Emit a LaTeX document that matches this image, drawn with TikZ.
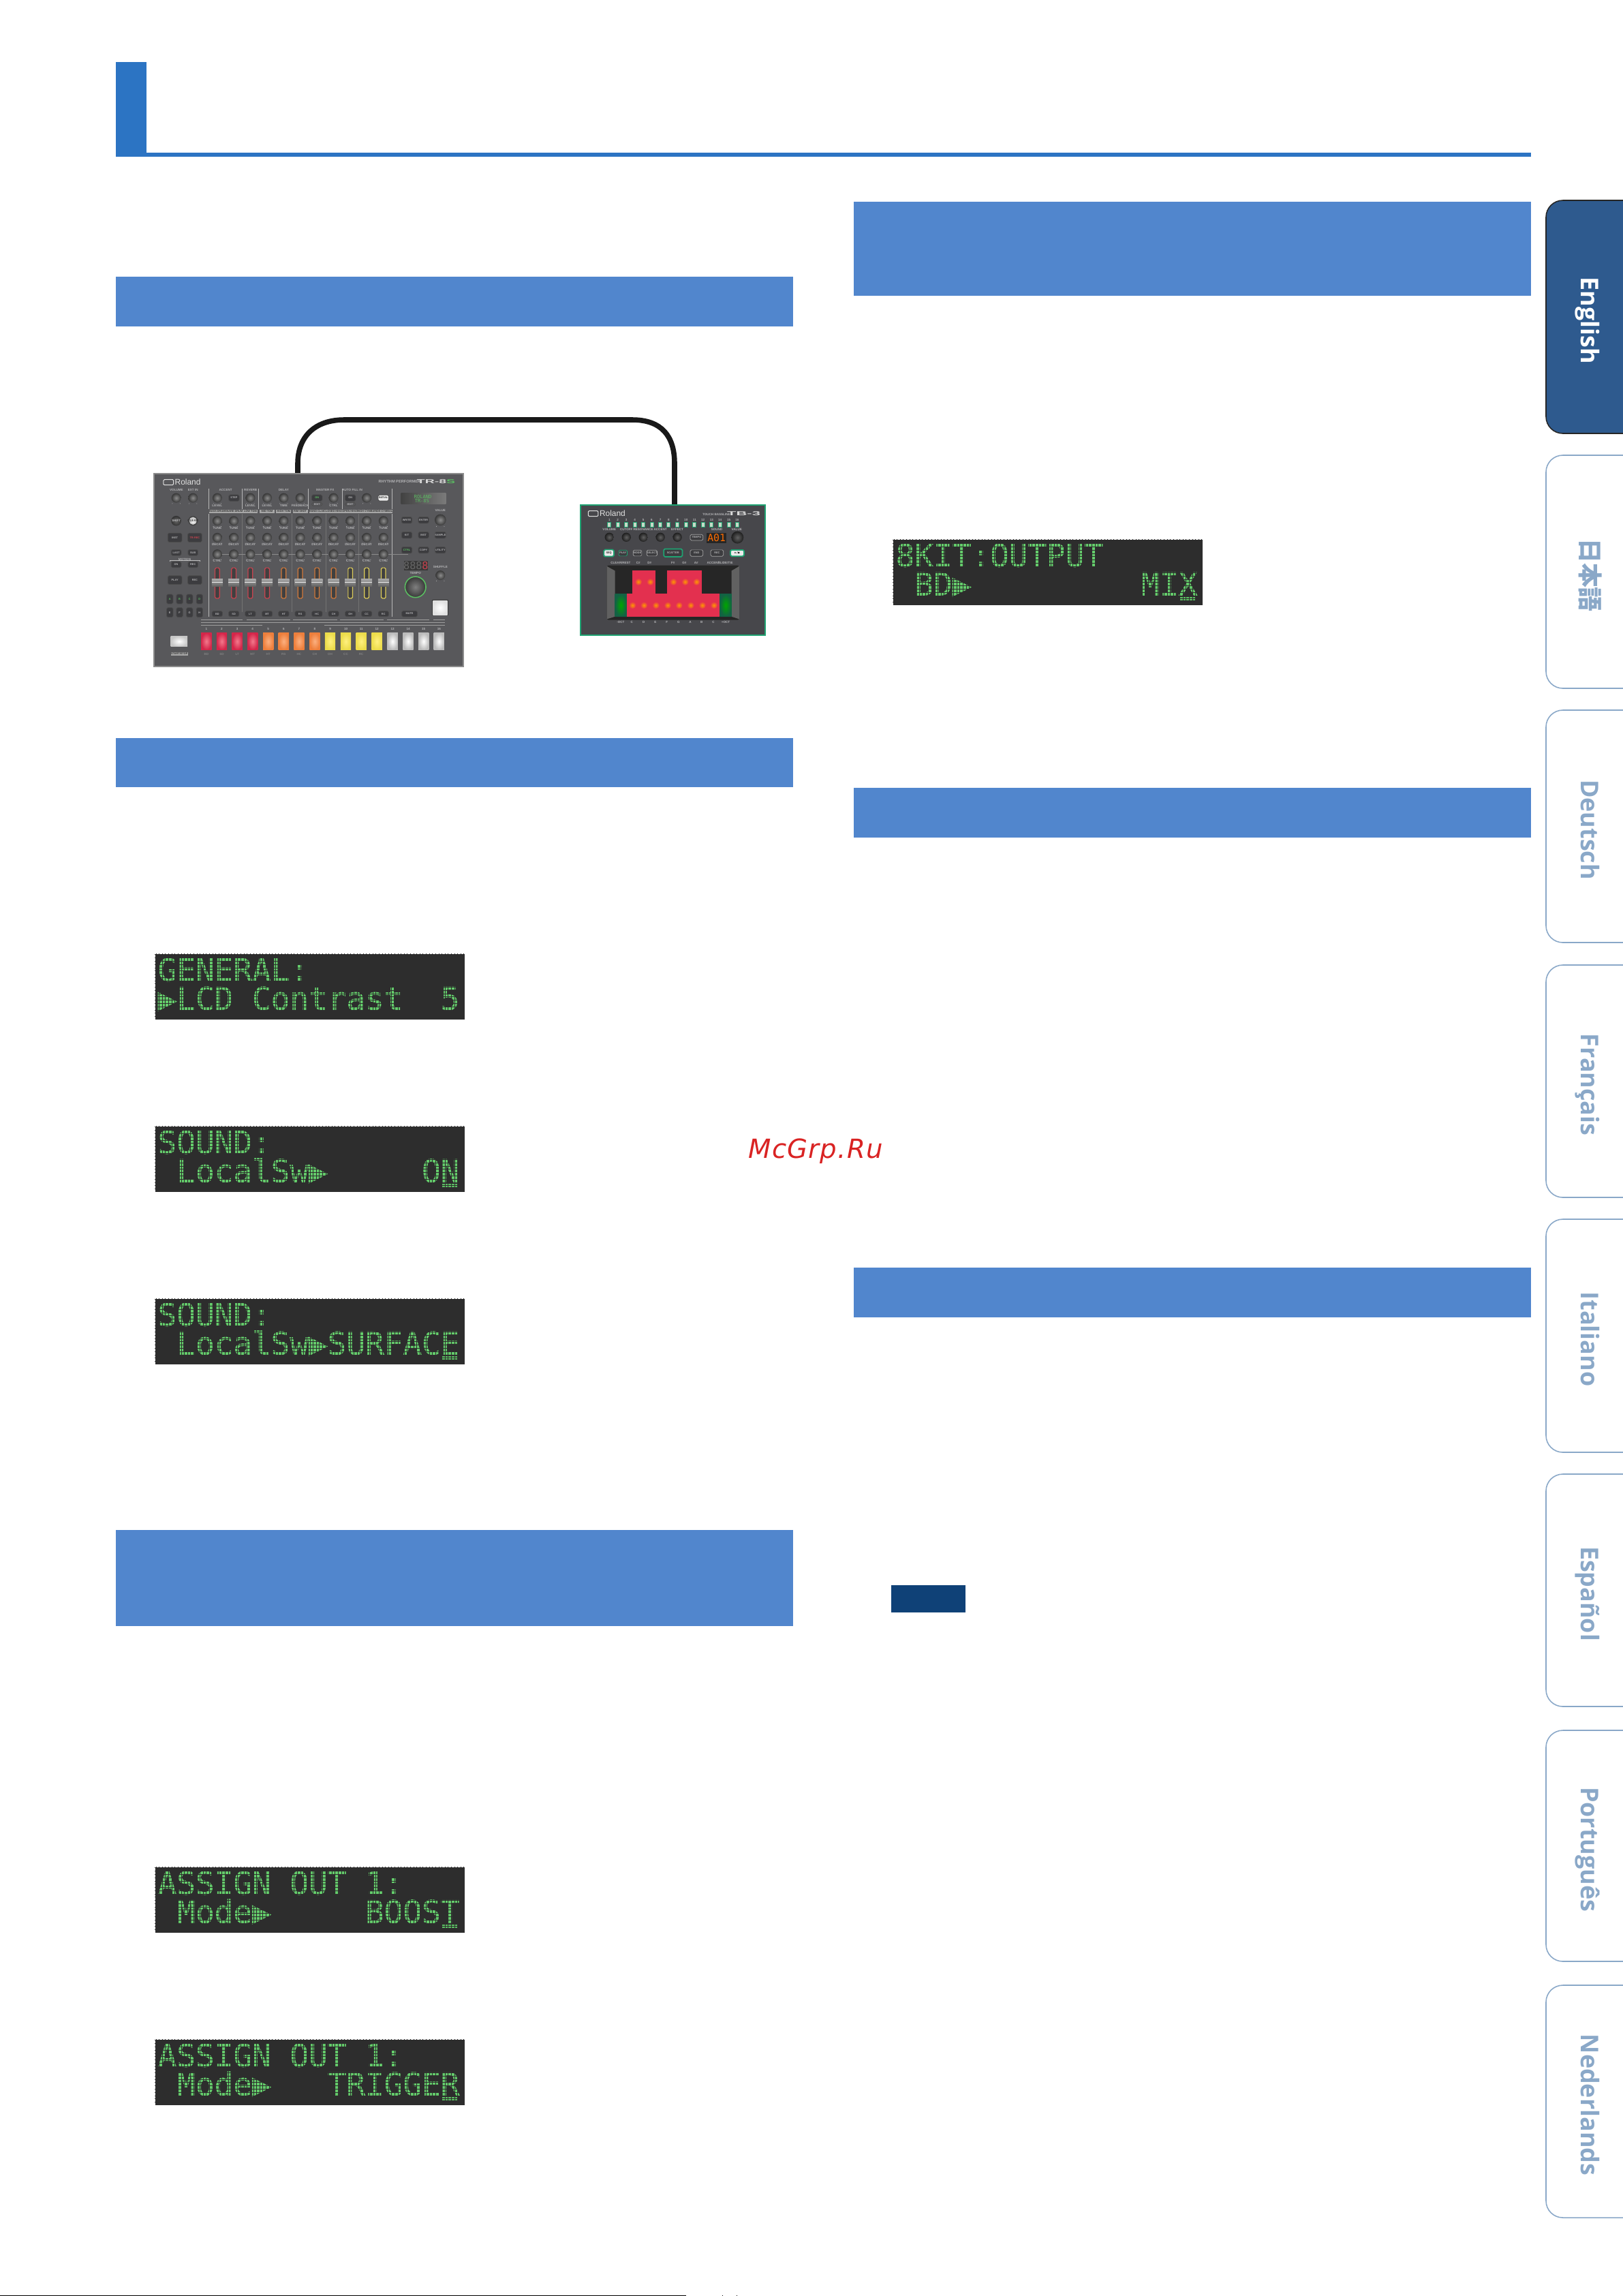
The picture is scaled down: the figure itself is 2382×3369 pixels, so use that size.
\documentclass[tikz,border=0pt]{standalone}
\usepackage{fontspec}
\setmainfont{Liberation Sans}
\newfontfamily\lcdfont{DejaVu Sans Mono}
\newfontfamily\lcdfat[FakeBold=1.2]{DejaVu Sans Mono}
\newfontfamily\tabfont{Open Sans}
\newfontfamily\jpfont{Noto Sans CJK JP}
\newfontfamily\markfont[LetterSpace=3]{DejaVu Sans}

\definecolor{headblue}{HTML}{2C74C3}
\definecolor{barblue}{HTML}{5186CD}
\definecolor{noteblue}{HTML}{0F4177}
\definecolor{tabdark}{HTML}{2E5A8E}
\definecolor{tabpale}{HTML}{8AA8C8}
\definecolor{lcdback}{HTML}{2D2D2D}
\definecolor{lcdink}{HTML}{5BBD62}
\definecolor{lcdbright}{HTML}{64CC6B}
\definecolor{markred}{HTML}{D92323}
\definecolor{trbody}{HTML}{58585B}
\definecolor{tbbody}{HTML}{47474B}
\definecolor{tbgreen}{HTML}{1FA372}
\definecolor{trred}{HTML}{C8434F}
\definecolor{trorange}{HTML}{D0783A}
\definecolor{tryellow}{HTML}{DCCB5A}
\definecolor{devtextgray}{HTML}{B4B4B6}
\definecolor{btndark}{HTML}{3C3C3F}
\definecolor{padred}{HTML}{E3304F}

\tikzset{
  lcdline/.style={anchor=base west, inner sep=0pt, text=lcdbright,
    font=\lcdfat\fontsize{13.07}{14}\selectfont},
  lcdgap/.style={draw=lcdback, line width=0.16pt},
  tabframe/.style={rounded corners=7pt, line width=0.45pt},
  tabtext/.style={rotate=-90, anchor=base, inner sep=0pt,
    font=\tabfont\bfseries\fontsize{10.2}{12}\selectfont},
  devtext/.style={inner sep=0pt, text=devtextgray,
    font=\bfseries\fontsize{1.3}{1.5}\selectfont},
  devbtn/.style={draw=black!70, fill=btndark, rounded corners=0.5pt, inner sep=0pt,
    line width=0.2pt, text=devtextgray, font=\bfseries\fontsize{1.1}{1.3}\selectfont},
  tracklabel/.style={fill=black!35, text=black!80, inner sep=0pt,
    minimum width=0.22cm, minimum height=0.045cm, font=\bfseries\fontsize{1.1}{1.2}\selectfont},
  cable/.style={draw=black!90, line width=2.15pt},
  logotext/.style={inner sep=0pt, text=black!12, font=\fontsize{3.4}{4}\selectfont},
}

% Small helpers for the two device panels
\newcount\devn
\newcommand{\devlabel}[3]{\global\advance\devn by 1
  \node[devtext] (lbl\the\devn) at (#1,#2) {#3};}
\newcommand{\devbutton}[6][]{\global\advance\devn by 1
  \node[devbtn, minimum width=#4*0.0333mm, minimum height=#5*0.0333mm, #1] (btn\the\devn) at (#2,#3) {#6};}
\newcommand{\trknob}[3]{\shade[inner color=black!45, outer color=black!78] (#1,#2) circle (#3);
  \fill[black!25] (#1-17,#2+#3+4) circle (1.5) (#1+17,#2+#3+4) circle (1.5);}
\newcommand{\tbknob}[3]{\shade[inner color=black!62, outer color=black!88] (#1,#2) circle (#3);}
\newcommand{\tbpad}[4]{\fill[padred] (#1,#2) rectangle (#3,#4);
  \shade[inner color=orange!80!yellow, outer color=padred] ({(#1+#3)/2},{(#2+#4)/2}) circle (16);}

\begin{document}
\begin{tikzpicture}[x=0.01cm, y=0.01cm]
  \useasboundingbox (0,0) rectangle (2382,-3369);

  % Page head
  \fill[headblue] (170,-91) rectangle (215,-230);
  \fill[headblue] (215,-224) rectangle (2247,-230);

  % Section bars
  \foreach \bx/\btop/\bbot in {170/406/479, 170/1083/1155, 170/2245/2386,
      1253/296/434, 1253/1156/1229, 1253/1860/1933}
    \fill[barblue] (\bx,-\btop) rectangle (\bx+994,-\bbot);
  \fill[noteblue] (1308,-2326) rectangle (1417,-2366);

  % LCD windows
  \foreach \nm/\xx/\yy/\first/\second/\cur in {
      general/227/1399/GENERAL:/▶LCD~Contrast~~5/0,
      soundon/227/1652/SOUND:/~LocalSw▶~~~~~ON/1,
      soundsurf/227/1905/SOUND:/~LocalSw▶SURFACE/1,
      boost/227/2739/ASSIGN~OUT~1:/~Mode▶~~~~~BOOST/1,
      trigger/227/2992/ASSIGN~OUT~1:/~Mode▶~~~TRIGGER/1,
      kit/1310/791/8KIT:OUTPUT/~BD▶~~~~~~~~~MIX/1} {
    \node[fill=lcdback, inner sep=0pt, anchor=north west, minimum width=4.54cm, minimum height=0.965cm]
      (\nm) at (\xx,-\yy) {};
    \node[lcdline] (\nm top) at (\xx+4,-\yy-40.5) {\first};
    \node[lcdline] (\nm bot) at (\xx+4,-\yy-82.5) {\second};
    \ifnum\cur=1
      \fill[lcdink] (\xx+422,-\yy-85) rectangle (\xx+445,-\yy-89.5);
    \fi
    \begin{scope}[shift={(\xx+1.9,-\yy-1.73)}]
      \draw[lcdgap, xstep=4.61, ystep=4.77] (-1.9,1.73) grid (452,-94.7);
    \end{scope}
  }

  % Cable behind the devices
  \coordinate (trjack) at (437,-695);
  \coordinate (tbjack) at (990,-741);
  \draw[cable] (trjack) -- (437,-680) .. controls (437,-640) and (463,-616) .. (505,-616)
    -- (928,-616) .. controls (971,-616) and (990,-640) .. (990,-680) -- (tbjack);

  % TR-8S
  \begin{scope}[shift={(220,-690)}, x=0.0033333cm, y=-0.0033333cm]
    \fill[trbody, draw=black!45, line width=0.5pt] (18,16) rectangle (1382,866);
    \draw[black!12, line width=0.3pt, rounded corners=0.4pt] (60,41) rectangle (104,65);
    \node[logotext, anchor=west] (trlogo) at (108,53) {Roland};
    \devlabel{1101}{51}{\fontsize{1.6}{2}\selectfont RHYTHM PERFORMER}
    \node[inner sep=0pt, xscale=2.3, font=\bfseries\fontsize{2.4}{3}\selectfont, text=black!15] (trname) at (1262,50) {TR-8\textcolor{lcdink}{S}};
    % top row
    \foreach \kx in {116,190,297,443,517,590,663,810,956} { \trknob{\kx}{122}{21} }
    \foreach \lx/\ll in {117/VOLUME,190/EXT IN,334/ACCENT,444/REVERB,590/DELAY,773/MASTER FX,893/AUTO FILL IN,1281/VALUE} { \devlabel{\lx}{\ifnum\lx=1281 177\else 86\fi}{\ll} }
    \foreach \lx/\ll in {297/LEVEL,443/LEVEL,517/LEVEL,590/TIME,663/FEEDBACK,810/CTRL} { \devlabel{\lx}{156}{\ll} }
    \devbutton{371}{122}{46}{28}{STEP}
    \devbutton[text=lcdink]{737}{122}{46}{28}{ON}
    \devbutton{884}{122}{46}{28}{ON}
    \devbutton[fill=black!8, text=black!80]{1030}{122}{46}{26}{INITIAL}
    \devbutton[fill=trbody]{737}{150}{46}{14}{EDIT}
    \devbutton[fill=trbody]{884}{150}{46}{14}{EDIT}
    % dividers
    \foreach \dx/\da/\db in {260/82/170,407/82/170,480/82/170,700/82/170,848/82/170,1068/82/170,
        260/193/645,1068/193/645}
      \draw[black!28, line width=0.3pt] (\dx,\da) -- (\dx,\db);
    \foreach \dx in {407,627,776,922}
      \draw[black!55, line width=0.25pt] (\dx,193) -- (\dx,625);
    \draw[black!45, line width=0.25pt] (297,370) -- (1140,370);
    % instrument tracks
    \foreach \tx/\trk/\bn/\col in {297/BASS DRUM/BD/trred,370/SNARE DRUM/SD/trred,443/LOW TOM/LT/trred,517/MID TOM/MT/trred,
        590/HIGH TOM/HT/trorange,663/RIM SHOT/RS/trorange,737/HAND CLAP/HC/trorange,810/CLOSED HIHAT/CH/trorange,
        884/OPEN HIHAT/OH/tryellow,956/HIGH CYMBAL/CC/tryellow,1030/RIDE CYMBAL/RC/tryellow} {
      \node[tracklabel] (label\bn) at (\tx,182) {\trk};
      \trknob{\tx}{223}{21} \trknob{\tx}{297}{21} \trknob{\tx}{370}{21}
      \devlabel{\tx}{254}{TUNE} \devlabel{\tx}{326}{DECAY} \devlabel{\tx}{400}{CTRL}
      \draw[\col, fill=black!75, line width=0.35pt, rounded corners=0.5pt] (\tx-10,430) rectangle (\tx+10,565);
      \shade[top color=black!35, bottom color=black!62] (\tx-24,480) rectangle (\tx+24,512);
      \fill[black!8] (\tx-24,493) rectangle (\tx+24,497);
      \devbutton{\tx}{633}{46}{24}{\bn}
    }
    % left column
    \shade[inner color=black!60, outer color=black!80] (116,223) circle (22);
    \devlabel{116}{223}{SHIFT}
    \fill[black!75] (190,223) circle (21);
    \shade[inner color=white, outer color=black!25] (190,223) circle (17);
    \node[devtext, text=black!80] (clearlbl) at (190,223) {CLEAR};
    \devbutton{110}{297}{62}{40}{INST}
    \devbutton[text=trred]{198}{297}{62}{40}{TR-REC}
    \devbutton{116}{363}{44}{26}{LAST}
    \devbutton{190}{363}{44}{26}{SUB}
    \devbutton{116}{416}{44}{26}{ON}
    \devbutton{190}{416}{44}{26}{REC}
    \devlabel{153}{394}{MOTION}
    \draw[black!25, line width=0.2pt] (88,403) -- (88,397) -- (220,397) -- (220,403);
    \devbutton{110}{484}{62}{38}{PLAY}
    \devbutton{198}{484}{62}{38}{REC}
    \foreach \ax/\al/\ag in {88/A/E,131/B/F,175/C/G,219/D/H} {
      \devbutton[text=lcdink]{\ax}{568}{28}{42}{\al}
      \devbutton{\ax}{627}{28}{42}{\ag}
    }
    % right column
    \shade[left color=black!74, right color=black!52] (1108,100) rectangle (1305,150);
    \node[inner sep=0pt, text=lcdink, font=\lcdfont\fontsize{2}{2.4}\selectfont] (trlcda) at (1204,116) {ROLAND};
    \node[inner sep=0pt, text=lcdink, font=\lcdfont\fontsize{2}{2.4}\selectfont] (trlcdb) at (1200,136) {TR-8S};
    \trknob{1281}{219}{25}
    \devbutton{1133}{220}{46}{28}{WRITE}
    \devbutton{1207}{220}{46}{28}{ENTER}
    \devbutton{1133}{286}{46}{28}{KIT}
    \devbutton{1207}{286}{46}{28}{INST}
    \devbutton{1281}{286}{46}{28}{SAMPLE}
    \devbutton[text=lcdink]{1133}{352}{46}{28}{CTRL}
    \devbutton{1207}{352}{46}{28}{COPY}
    \devbutton{1281}{352}{46}{28}{UTILITY}
    \fill[black!78] (1122,400) rectangle (1225,442);
    \node[inner sep=0pt, font=\lcdfont\fontsize{4.3}{5}\selectfont, text=black!60] (trtempo) at (1173,420) {888\textcolor{trred}{8}};
    \devlabel{1171}{453}{TEMPO}
    \devlabel{1281}{427}{SHUFFLE}
    \trknob{1281}{463}{21}
    \shade[inner color=black!50, outer color=black!78] (1171,515) circle (46);
    \draw[lcdink, line width=0.45pt] (1171,515) circle (46);
    \fill[black!78] (1244,571) rectangle (1316,641);
    \shade[inner color=white, outer color=black!12] (1248,575) rectangle (1312,637);
    \devbutton{1145}{633}{68}{26}{MUTE}
    % step row
    \foreach \gy/\ga/\gb in {660/225/410,660/428/620,660/632/825,660/838/1030,660/1045/1233,660/1250/1300,
        672/225/1300,684/225/495,684/770/1300}
      \draw[black!38, line width=0.3pt] (\ga,\gy) -- (\gb,\gy);
    \foreach \px/\pi/\pn/\pa/\pb in {249/1/BD/F2798C/D4264A,317/2/SD/F2798C/D4264A,385/3/LT/F2798C/D4264A,453/4/MT/F2798C/D4264A,
        522/5/HT/FBB080/EE7F3C,590/6/RS/FBB080/EE7F3C,658/7/HC/FBB080/EE7F3C,727/8/CH/FBB080/EE7F3C,
        795/9/OH/FFF080/ECDC4A,864/10/CC/FFF080/ECDC4A,932/11/RC/FFF080/ECDC4A,1001/12/{}/FFF080/ECDC4A,
        1070/13/{}/FFFFFF/BBBBBB,1139/14/{}/FFFFFF/BBBBBB,1207/15/{}/FFFFFF/BBBBBB,1275/16/{}/FFFFFF/BBBBBB} {
      \definecolor{padin}{HTML}{\pa}
      \definecolor{padout}{HTML}{\pb}
      \shade[inner color=padin, outer color=padout] (\px-23,717) rectangle (\px+23,792);
      \devlabel{\px}{700}{\pi}
      \node[devtext, text=black!50] (pad\pi) at (\px,810) {\pn};
    }
    \shade[inner color=white, outer color=black!22] (92,731) rectangle (166,778);
    \node[tracklabel, minimum width=0.247cm] (startlbl) at (130,810) {START/STOP};
  \end{scope}

  % TB-3
  \begin{scope}[shift={(850,-736)}, x=0.0033333cm, y=-0.0033333cm]
    \fill[tbbody, draw=tbgreen, line width=0.6pt] (6,16) rectangle (820,590);
    \draw[black!12, line width=0.3pt, rounded corners=0.4pt] (40,41) rectangle (84,65);
    \node[logotext, anchor=west] (tblogo) at (88,53) {Roland};
    \devlabel{605}{57}{TOUCH BASSLINE}
    \node[inner sep=0pt, xscale=2.6, font=\bfseries\fontsize{2.4}{3}\selectfont, text=black!15] (tbname) at (726,54) {TB-3};
    % step lamps
    \foreach \lx [count=\ln] in {133,170,208,245,283,320,358,395,434,471,509,546,584,621,660,697} {
      \fill[tbgreen] (\lx-9,89) rectangle (\lx+9,115);
      \fill[green!8!white!85!black] (\lx-6,92) rectangle (\lx+6,112);
      \devlabel{\lx}{82}{\ln}
    }
    % knob row
    \foreach \kx/\kl in {133/VOLUME,208/CUTOFF,283/RESONANCE,358/ACCENT,433/EFFECT} {
      \tbknob{\kx}{157}{20}
      \devlabel{\kx}{124}{\kl}
    }
    \devbutton[draw=black!35]{518}{158}{56}{26}{TEMPO}
    \fill[black!85] (562,138) rectangle (650,182);
    \node[inner sep=0pt, font=\lcdfont\fontsize{4.2}{5}\selectfont, text=orange!85!red] (tbseg) at (606,161) {A01};
    \devlabel{607}{124}{SOUND}
    \devlabel{695}{124}{VALUE}
    \tbknob{698}{158}{27}
    % button row
    \devbutton[draw=tbgreen, fill=black!8, text=black!85, line width=0.5pt]{131}{227}{44}{30}{SEQ}
    \devbutton[draw=tbgreen]{193}{227}{38}{26}{PLAY}
    \devbutton[draw=black!35]{257}{227}{38}{26}{MODE}
    \devbutton[draw=black!35]{321}{227}{38}{26}{SELECT}
    \devbutton[draw=tbgreen, line width=0.5pt]{414}{226}{82}{34}{SCATTER}
    \devbutton[draw=black!35]{518}{227}{56}{28}{END}
    \devbutton[draw=black!35]{608}{227}{56}{28}{REC}
    \devbutton[draw=tbgreen, fill=black!8, text=black!85, line width=0.5pt]{697}{227}{60}{28}{\lcdfont ▶/■}
    \foreach \lx/\ll in {183/{CLEAR/REST},261/C\#,310/D\#,414/F\#,464/G\#,516/A\#,592/ACCENT,645/{SLIDE/TIE}} {
      \devlabel{\lx}{271}{\ll}
    }
    % pad frame
    \fill[black!85, rounded corners=0.8pt] (122,281) rectangle (706,522);
    \fill[black!62] (122,285) -- (158,305) -- (158,507) -- (122,518) -- cycle;
    \fill[black!62] (706,285) -- (672,305) -- (672,507) -- (706,518) -- cycle;
    \foreach \pa/\pb in {234/288,288/338,388/442,442/492,492/542} { \tbpad{\pa}{302}{\pb}{405} }
    \foreach \pa/\pb in {210/260,260/311,311/365,365/415,415/465,465/518,518/568,568/620} { \tbpad{\pa}{407}{\pb}{507} }
    \shade[inner color=green!65!black, outer color=tbgreen!60!black] (158,407) rectangle (210,507);
    \shade[inner color=green!65!black, outer color=tbgreen!60!black] (620,407) rectangle (672,507);
    \foreach \lx/\ll in {183/-OCT,232/C,285/D,336/E,387/F,438/G,490/A,540/B,592/C,646/+OCT} {
      \devlabel{\lx}{532}{\ll}
    }
  \end{scope}

  % Language tabs
  \fill[tabdark, draw=black!85, tabframe] (2400,-294) -- (2269,-294) -- (2269,-636) -- (2400,-636);
  \node[tabtext, text=white] (english) at (2320,-470) {English};
  \foreach \tname/\tlab/\ta/\tb in {japanese/{\jpfont\bfseries 日本語}/668/1010, deutsch/Deutsch/1042/1383,
      francais/Français/1416/1757, italiano/Italiano/1789/2131, espanol/Español/2163/2504,
      portugues/Português/2539/2878, nederlands/Nederlands/2913/3254} {
    \draw[tabpale, tabframe] (2400,-\ta) -- (2269,-\ta) -- (2269,-\tb) -- (2400,-\tb);
    \node[tabtext, text=tabpale] (\tname) at (2320,{-(\ta+\tb)/2-5}) {\tlab};
  }

  % Watermark and page foot
  \node[anchor=base west, inner sep=0pt, text=markred, font=\markfont\itshape\fontsize{11}{13}\selectfont] (watermark) at (1098,-1699) {McGrp.Ru};
  \fill[black] (0,-3367.6) rectangle (1007,-3369);
  \fill[black] (1060,-3368) rectangle (1061,-3369);
  \fill[black] (1081,-3368) rectangle (1082,-3369);
\end{tikzpicture}
\end{document}
